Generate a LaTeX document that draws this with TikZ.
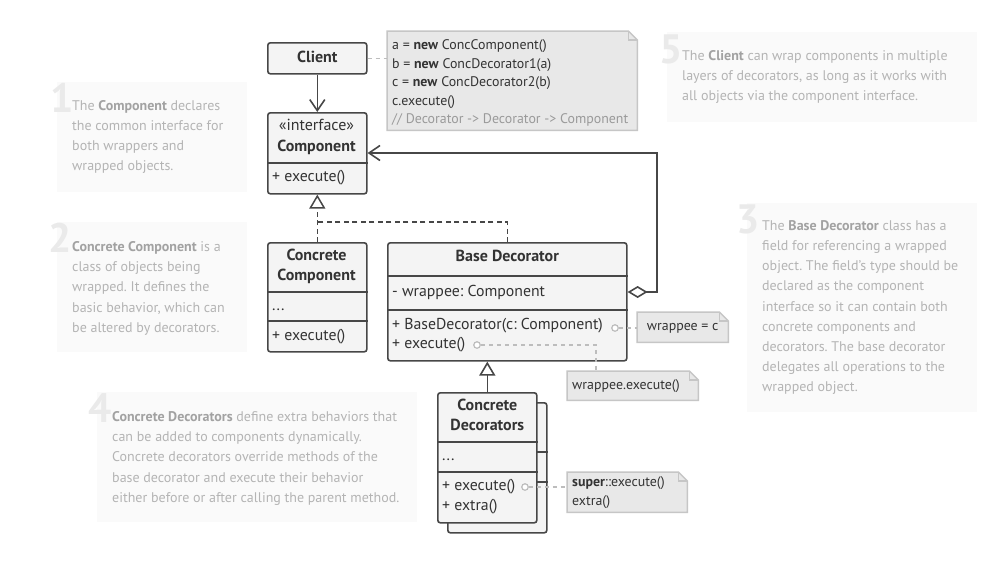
\documentclass[tikz,border=0pt]{standalone}
\usepackage{fontspec}
\setmainfont{PT Sans}
\usetikzlibrary{arrows.meta,calc}

\definecolor{ink}{HTML}{333333}
\definecolor{edge}{HTML}{474747}
\definecolor{boxbg}{HTML}{F4F4F4}
\definecolor{notebg}{HTML}{E8E8E8}
\definecolor{noteedge}{HTML}{C6C6C6}
\definecolor{linkgray}{HTML}{BDBDBD}
\definecolor{commentgray}{HTML}{9A9A9A}
\definecolor{panelbg}{HTML}{FAFAFA}
\definecolor{paneltext}{HTML}{B4B4B4}
\definecolor{panelbold}{HTML}{A2A2A2}
\definecolor{digitgray}{HTML}{EAEAEA}

\newcommand\panelkey[1]{\textcolor{panelbold}{\textbf{#1}}}
% folded-corner outline around an (empty) note node
\newcommand\foldnote[1]{%
  \filldraw[fill=notebg, draw=noteedge, line width=1.5pt]
    (#1.north west) -- ([xshift=-9pt]#1.north east) -- ([yshift=-9pt]#1.north east)
    -- (#1.south east) -- (#1.south west) -- cycle;
  \draw[noteedge, line width=1.5pt] ([xshift=-9pt]#1.north east) |- ([yshift=-9pt]#1.north east);
}

\tikzset{
  cls/.style={draw=edge, fill=boxbg, line width=1.6pt, rounded corners=2.5pt,
    inner sep=0pt, anchor=north west},
  sep/.style={draw=edge, line width=1.6pt},
  title/.style={font=\fontsize{16}{19}\selectfont\bfseries, text=ink,
    text height=11pt, text depth=3.5pt, inner sep=0pt},
  stereo/.style={font=\fontsize{16}{19}\selectfont, text=ink,
    text height=11pt, text depth=3.5pt, inner sep=0pt},
  member/.style={font=\fontsize{15.8}{19}\selectfont, text=ink,
    text height=11pt, text depth=3.5pt, inner sep=0pt, anchor=west},
  notebox/.style={inner sep=0pt, anchor=north west},
  notetext/.style={font=\fontsize{13.9}{18.5}\selectfont, text=ink, align=left,
    inner sep=0pt, anchor=north west},
  noteline/.style={font=\fontsize{13.9}{18.5}\selectfont, text=ink,
    text height=10pt, text depth=3pt, inner sep=0pt},
  assoc/.style={draw=edge, line width=1.6pt, -{Straight Barb[length=11pt,width=15pt]}},
  aggr/.style={draw=edge, line width=1.6pt,
    {Diamond[open,fill=white,length=20pt,width=12pt]}-{Straight Barb[length=11pt,width=15pt]}},
  realize/.style={draw=edge, line width=1.5pt, dash pattern=on 5pt off 3.5pt,
    -{Triangle[open,fill=white,length=14pt,width=16pt]}},
  dashdark/.style={draw=edge, line width=1.5pt, dash pattern=on 5pt off 3.5pt},
  inherit/.style={draw=edge, line width=1.6pt, -{Triangle[open,fill=white,length=14pt,width=16pt]}},
  link/.style={draw=linkgray, line width=1.5pt, dash pattern=on 4pt off 4pt},
  port/.style={circle, draw=linkgray, line width=1.2pt, fill=white, inner sep=0pt, minimum size=6.5pt},
  panel/.style={fill=panelbg, draw=none, inner sep=0pt, anchor=north west},
  paneltxt/.style={font=\fontsize{14}{20.1}\selectfont\frenchspacing, text=paneltext, align=left,
    inner sep=0pt, anchor=north west},
  digit/.style={font=\fontsize{41}{41}\selectfont\bfseries, text=digitgray,
    inner sep=0pt, anchor=base west},
}

\begin{document}
\frenchspacing
\begin{tikzpicture}[x=1pt, y=-1pt]
\useasboundingbox (0,0) rectangle (991,560);
\fill[white] (0,0) rectangle (991,560);

% ---------- explanatory panels ----------
\node[panel, minimum width=190pt, minimum height=110pt] (pan1) at (57,82) {};
\node[digit] (dig1) at (50,112) {1};
\node[paneltxt] (txt1) at (72,100.5) {The \panelkey{Component} declares\\the common interface for\\both wrappers and\\wrapped objects.};

\node[panel, minimum width=190pt, minimum height=130pt] (pan2) at (57,222) {};
\node[digit] (dig2) at (48,252) {2};
\node[paneltxt] (txt2) at (72,241.5) {\panelkey{Concrete Component} is a\\class of objects being\\wrapped. It defines the\\basic behavior, which can\\be altered by decorators.};

\node[panel, minimum width=230pt, minimum height=209pt] (pan3) at (747,203) {};
\node[digit] (dig3) at (736,233) {3};
\node[paneltxt] (txt3) at (762,220.5) {The \panelkey{Base Decorator} class has a\\field for referencing a wrapped\\object. The field’s type should be\\declared as the component\\interface so it can contain both\\concrete components and\\decorators. The base decorator\\delegates all operations to the\\wrapped object.};

\node[panel, minimum width=320pt, minimum height=130pt] (pan4) at (97,392) {};
\node[digit] (dig4) at (88,422) {4};
\node[paneltxt] (txt4) at (112,411.5) {\panelkey{Concrete Decorators} define extra behaviors that\\can be added to components dynamically.\\Concrete decorators override methods of the\\base decorator and execute their behavior\\either before or after calling the parent method.};

\node[panel, minimum width=310pt, minimum height=90pt] (pan5) at (667,32) {};
\node[digit] (dig5) at (659,63) {5};
\node[paneltxt] (txt5) at (682,50.5) {The \panelkey{Client} can wrap components in multiple\\layers of decorators, as long as it works with\\all objects via the component interface.};

% ---------- client and its code note ----------
\node[cls, minimum width=99pt, minimum height=31pt] (client) at (267,42) {};
\node[title] (clientT) at (client.center) {Client};

\node[notebox, minimum width=250pt, minimum height=99pt] (nCode) at (387,31) {};
\foldnote{nCode}
\node[notetext] (nCodeT) at (392,39.5) {a = \textbf{new} ConcComponent()\\
b = \textbf{new} ConcDecorator1(a)\\
c = \textbf{new} ConcDecorator2(b)\\
c.execute()\\
\textcolor{commentgray}{// Decorator -> Decorator -> Component}};
\draw[link] (client.east) -- (nCode.west |- client.east);

% ---------- Component interface ----------
\node[cls, minimum width=99pt, minimum height=81pt] (comp) at (267,112) {};
\draw[sep] ($(comp.north west)+(0,51)$) -- ($(comp.north east)+(0,51)$);
\node[stereo] (compS) at (316.5,127) {«interface»};
\node[title] (compT) at (316.5,148) {Component};
\node[member] (compM) at (272,178) {+ execute()};

\draw[assoc] (client.south) -- (comp.north);

% ---------- Concrete Component ----------
\node[cls, minimum width=99pt, minimum height=109pt] (ccomp) at (267,242) {};
\draw[sep] ($(ccomp.north west)+(0,50)$) -- ($(ccomp.north east)+(0,50)$);
\draw[sep] ($(ccomp.north west)+(0,79)$) -- ($(ccomp.north east)+(0,79)$);
\node[title] (ccompT1) at (316.5,257) {Concrete};
\node[title] (ccompT2) at (316.5,277) {Component};
\node[member] (ccompF) at (272,306.5) {...};
\node[member] (ccompM) at (272,337) {+ execute()};

% ---------- Base Decorator ----------
\node[cls, minimum width=239pt, minimum height=118pt] (bdec) at (387,242) {};
\draw[sep] ($(bdec.north west)+(0,34)$) -- ($(bdec.north east)+(0,34)$);
\draw[sep] ($(bdec.north west)+(0,68)$) -- ($(bdec.north east)+(0,68)$);
\node[title] (bdecT) at (bdec.north |- 0,258) {Base Decorator};
\node[member] (bdecF) at (392,292.5) {- wrappee: Component};
\node[member] (bdecM1) at (392,326) {+ BaseDecorator(c: Component)};
\node[member] (bdecM2) at (392,345) {+ execute()};

% realization of the interface
\draw[realize] (ccomp.north) -- (comp.south);
\draw[dashdark] (bdec.north) |- ($(ccomp.north)+(0,-20)$);

% aggregation: the wrapped component
\coordinate (aggR) at (657,292);
\draw[aggr] (bdec.east |- aggR) -- (aggR) |- (comp.east |- 0,153);

% notes on the base decorator methods
\node[port] (pCtor) at (615,328) {};
\node[notebox, minimum width=91pt, minimum height=30pt] (nWrap) at (637,312) {};
\foldnote{nWrap}
\node[noteline] (nWrapT) at (nWrap.center) {wrappee = c};
\draw[link] (pCtor.east) -- (nWrap.west |- pCtor);

\node[port] (pExec) at (477,345) {};
\node[notebox, minimum width=131pt, minimum height=29pt] (nExec) at (567,371) {};
\foldnote{nExec}
\node[noteline, anchor=west] (nExecT) at (572,385.5) {wrappee.execute()};
\coordinate (nExecTop) at ($(nExec.north west)+(29,0)$);
\draw[link] (pExec.east) -| (nExecTop);

% ---------- Concrete Decorators (stacked) ----------
\node[cls, minimum width=99pt, minimum height=130pt] (cdecB) at (447,402) {};
\draw[sep] ($(cdecB.north west)+(0,50)$) -- ($(cdecB.north east)+(0,50)$);
\draw[sep] ($(cdecB.north west)+(0,80)$) -- ($(cdecB.north east)+(0,80)$);
\node[cls, minimum width=99pt, minimum height=130pt] (cdec) at (437,392) {};
\draw[sep] ($(cdec.north west)+(0,50)$) -- ($(cdec.north east)+(0,50)$);
\draw[sep] ($(cdec.north west)+(0,80)$) -- ($(cdec.north east)+(0,80)$);
\node[title] (cdecT1) at (cdec.north |- 0,407) {Concrete};
\node[title] (cdecT2) at (cdec.north |- 0,427) {Decorators};
\node[member] (cdecF) at (442,457) {...};
\node[member] (cdecM1) at (442,487) {+ execute()};
\node[member] (cdecM2) at (442,507) {+ extra()};

\draw[inherit] (cdec.north) -- (cdec.north |- bdec.south);

\node[port] (pCd) at (525,487) {};
\node[notebox, minimum width=120pt, minimum height=40pt] (nSuper) at (567,472) {};
\foldnote{nSuper}
\node[notetext] (nSuperT) at (572,476.5) {\textbf{super}::execute()\\extra()};
\draw[link] (pCd.east) -- (nSuper.west |- pCd);

\end{tikzpicture}
\end{document}
